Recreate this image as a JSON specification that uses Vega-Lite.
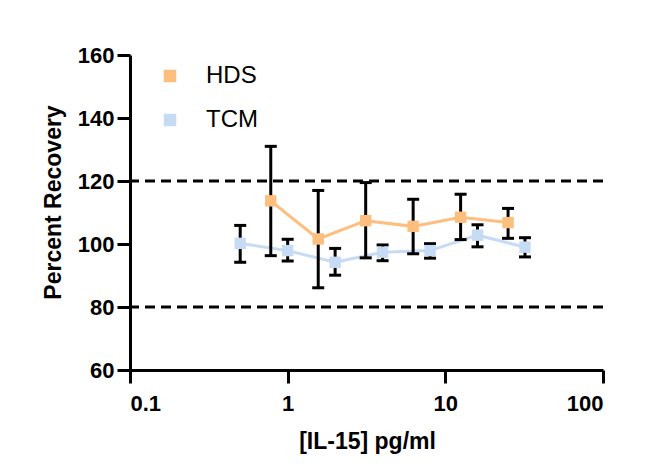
{
  "$schema": "https://vega.github.io/schema/vega-lite/v6.json",
  "width": 473,
  "height": 315,
  "autosize": {"type": "none"},
  "padding": {"left": 130, "top": 55, "right": 64, "bottom": 102},
  "background": "white",
  "config": {
    "view": {"stroke": null},
    "font": "Liberation Sans",
    "axis": {
      "labelFont": "Liberation Sans",
      "labelFontWeight": "bold",
      "labelFontSize": 22,
      "labelColor": "black",
      "titleFont": "Liberation Sans",
      "titleFontWeight": "bold",
      "titleFontSize": 23,
      "titleColor": "black",
      "domainColor": "black",
      "domainWidth": 3,
      "tickColor": "black",
      "tickWidth": 3,
      "tickSize": 13,
      "grid": false
    }
  },
  "datasets": {
    "recovery": [
      {"group": "HDS", "conc": 0.78125, "mean": 113.7, "lo": 96.3, "hi": 131.0},
      {"group": "HDS", "conc": 1.5625, "mean": 101.6, "lo": 86.1, "hi": 117.0},
      {"group": "HDS", "conc": 3.125, "mean": 107.4, "lo": 95.6, "hi": 119.5},
      {"group": "HDS", "conc": 6.25, "mean": 105.6, "lo": 96.9, "hi": 114.2},
      {"group": "HDS", "conc": 12.5, "mean": 108.5, "lo": 101.4, "hi": 115.8},
      {"group": "HDS", "conc": 25, "mean": 106.8, "lo": 101.8, "hi": 111.3},
      {"group": "TCM", "conc": 0.5, "mean": 100.2, "lo": 94.2, "hi": 105.9},
      {"group": "TCM", "conc": 1, "mean": 97.9, "lo": 94.6, "hi": 101.5},
      {"group": "TCM", "conc": 2, "mean": 94.2, "lo": 90.1, "hi": 98.6},
      {"group": "TCM", "conc": 4, "mean": 97.4, "lo": 94.7, "hi": 99.7},
      {"group": "TCM", "conc": 8, "mean": 97.9, "lo": 95.5, "hi": 100.1},
      {"group": "TCM", "conc": 16, "mean": 102.8, "lo": 99.1, "hi": 106.1},
      {"group": "TCM", "conc": 32, "mean": 99.0, "lo": 95.9, "hi": 102.0}
    ],
    "refs": [{"ref": 120}, {"ref": 80}]
  },
  "layer": [
    {
      "data": {"name": "refs"},
      "mark": {"type": "rule", "color": "black", "strokeWidth": 3, "strokeDash": [10, 6]},
      "encoding": {
        "y": {"field": "ref", "type": "quantitative", "scale": {"domain": [60, 160], "nice": false, "zero": false}}
      }
    },
    {
      "data": {"name": "recovery"},
      "mark": {"type": "line", "strokeWidth": 3},
      "encoding": {
        "x": {"field": "conc", "type": "quantitative"},
        "y": {"field": "mean", "type": "quantitative"},
        "color": {
          "field": "group",
          "type": "nominal"
        }
      }
    },
    {
      "data": {"name": "recovery"},
      "mark": {"type": "rule", "color": "black", "strokeWidth": 3},
      "encoding": {
        "x": {"field": "conc", "type": "quantitative"},
        "y": {"field": "lo", "type": "quantitative"},
        "y2": {"field": "hi"}
      }
    },
    {
      "data": {"name": "recovery"},
      "mark": {"type": "tick", "orient": "horizontal", "color": "black", "size": 12, "thickness": 3, "opacity": 1},
      "encoding": {
        "x": {"field": "conc", "type": "quantitative"},
        "y": {"field": "lo", "type": "quantitative"}
      }
    },
    {
      "data": {"name": "recovery"},
      "mark": {"type": "tick", "orient": "horizontal", "color": "black", "size": 12, "thickness": 3, "opacity": 1},
      "encoding": {
        "x": {"field": "conc", "type": "quantitative"},
        "y": {"field": "hi", "type": "quantitative"}
      }
    },
    {
      "data": {"name": "recovery"},
      "mark": {"type": "point", "shape": "square", "filled": true, "size": 130, "opacity": 1},
      "encoding": {
        "x": {
          "field": "conc",
          "type": "quantitative",
          "scale": {"type": "log", "domain": [0.1, 100], "nice": false},
          "axis": {
            "title": "[IL-15] pg/ml",
            "values": [0.1, 1, 10, 100],
            "format": "~g",
            "labelPadding": 10,
            "titleX": 237,
            "titleY": 78,
            "titleBaseline": "alphabetic"
          }
        },
        "y": {
          "field": "mean",
          "type": "quantitative",
          "scale": {"domain": [60, 160], "nice": false, "zero": false},
          "axis": {
            "title": "Percent Recovery",
            "values": [60, 80, 100, 120, 140, 160],
            "labelPadding": 3,
            "titleAngle": -90,
            "titleX": -70,
            "titleY": 147,
            "titleAlign": "center",
            "titleBaseline": "alphabetic"
          }
        },
        "color": {
          "field": "group",
          "type": "nominal",
          "scale": {"domain": ["HDS", "TCM"], "range": ["#FDBE7E", "#C6DBF4"]},
          "legend": {
            "title": null,
            "orient": "none",
            "legendX": 28,
            "legendY": 9,
            "symbolType": "square",
            "symbolSize": 121,
            "labelFontSize": 24,
            "labelColor": "black",
            "labelOffset": 24,
            "rowPadding": 20
          }
        }
      }
    }
  ]
}
